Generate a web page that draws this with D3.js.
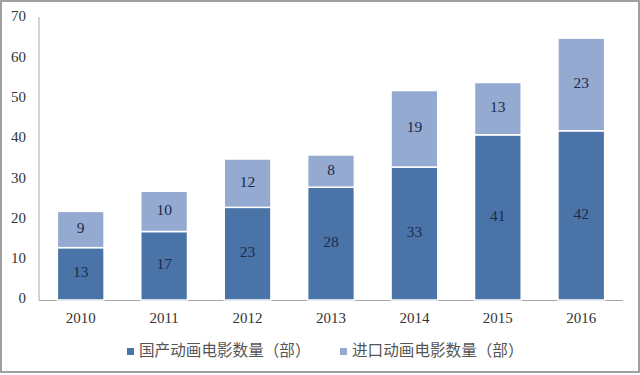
<!DOCTYPE html>
<html>
<head>
<meta charset="utf-8">
<script src="https://cdn.jsdelivr.net/npm/d3@7"></script>
<style>
  body { margin: 0; background: #fff; }
  svg { display: block; }
</style>
</head>
<body>
<div id="chart"></div>
<script>
// chart data
let years = ["2010", "2011", "2012", "2013", "2014", "2015", "2016"];
let domestic = [13, 17, 23, 28, 33, 41, 42];
let imported = [9, 10, 12, 8, 19, 13, 23];
let seriesNames = ["国产动画电影数量（部）", "进口动画电影数量（部）"];
let yTicks = [0, 10, 20, 30, 40, 50, 60, 70];

let width = 640, height = 375;
let margin = {left: 39, right: 17, top: 18, bottom: 75};
let colors = ["#4a74a8", "#95aad0"];

let svg = d3.select("#chart").append("svg").attr("width", width).attr("height", height);

// outer frame
svg.append("rect").attr("x", 1).attr("y", 1).attr("width", width - 2).attr("height", height - 4)
    .attr("fill", "none").attr("stroke", "#a0a0a0").attr("stroke-width", 2);

let x = d3.scaleBand().domain(years).range([margin.left, width - margin.right]).paddingInner(0.44).paddingOuter(0.22);
let y = d3.scaleLinear().domain([0, 70]).range([height - margin.bottom, margin.top]);

// stacked data
let rows = years.map((yr, i) => ({year: yr, domestic: domestic[i], imported: imported[i]}));
let stacked = d3.stack().keys(["domestic", "imported"])(rows);

// axes
svg.append("line").attr("x1", margin.left).attr("x2", margin.left)
    .attr("y1", y(70) - 1).attr("y2", y(0)).attr("stroke", "#a6a6a6").attr("stroke-width", 1);
svg.append("line").attr("x1", margin.left).attr("x2", width - margin.right)
    .attr("y1", y(0) + 0.5).attr("y2", y(0) + 0.5).attr("stroke", "#a6a6a6").attr("stroke-width", 1);

svg.selectAll(".ytick").data(yTicks).enter().append("text")
    .attr("x", 26).attr("y", d => y(d)).attr("text-anchor", "end").attr("dominant-baseline", "middle")
    .attr("fill", "#333").attr("style", "font: 15px 'Liberation Serif', serif").text(d => d);

svg.selectAll(".xtick").data(years).enter().append("text")
    .attr("x", d => x(d) + x.bandwidth() / 2).attr("y", y(0) + 20).attr("text-anchor", "middle").attr("dominant-baseline", "middle")
    .attr("fill", "#333").attr("style", "font: 15px 'Liberation Serif', serif").text(d => d);

// bars
let layers = svg.selectAll(".layer").data(stacked).enter().append("g").attr("fill", (d, i) => colors[i]);
layers.selectAll("rect").data(d => d).enter().append("rect")
    .attr("x", d => x(d.data.year)).attr("width", x.bandwidth())
    .attr("y", d => y(d[1])).attr("height", d => y(d[0]) - y(d[1]))
    .attr("stroke", "#fff").attr("stroke-width", 1.5);

layers.selectAll("text").data(d => d).enter().append("text")
    .attr("x", d => x(d.data.year) + x.bandwidth() / 2).attr("y", d => y((d[0] + d[1]) / 2))
    .attr("text-anchor", "middle").attr("dominant-baseline", "middle")
    .attr("fill", "#1c2b4a").attr("style", "font: 15.5px 'Liberation Serif', serif")
    .text(d => d[1] - d[0]);

// legend
let legendX = [127, 340];
let legend = svg.selectAll(".legend").data(seriesNames).enter().append("g")
    .attr("transform", (d, i) => "translate(" + legendX[i] + "," + 352 + ")");
legend.append("rect").attr("x", 0).attr("y", -4).attr("width", 7).attr("height", 7).attr("fill", (d, i) => colors[i]);
legend.append("text").attr("x", 12).attr("y", 0).attr("dominant-baseline", "middle")
    .attr("fill", "#555").attr("style", "font: 15.6px 'Noto Sans CJK SC', sans-serif").text(d => d);
</script>
</body>
</html>
